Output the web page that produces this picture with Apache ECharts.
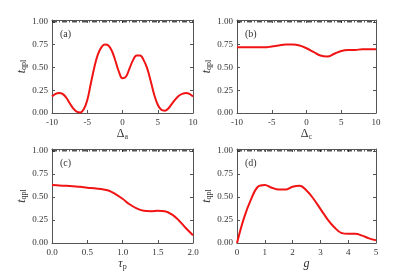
<!DOCTYPE html>
<html><head><meta charset="utf-8">
<script src="https://cdn.jsdelivr.net/npm/echarts@6/dist/echarts.min.js"></script>
<style>html,body{margin:0;padding:0;background:#fff}#c{width:415px;height:274px}</style>
</head><body><div id="c"></div><script>
// Panel (a): t_qpl vs Delta_a
const xA = [-10,-9.5,-9,-8.5,-8,-7.5,-7,-6.5,-6,-5.5,-5,-4.5,-4,-3.5,-3,-2.5,-2,-1.5,-1,-0.5,0,0.5,1,1.5,2,2.5,3,3.5,4,4.5,5,5.5,6,6.5,7,7.5,8,8.5,9,9.5,10];
const yA = [0.18,0.21,0.22,0.21,0.17,0.11,0.05,0.015,0.005,0.04,0.14,0.32,0.50,0.64,0.72,0.75,0.74,0.68,0.57,0.45,0.38,0.40,0.49,0.58,0.63,0.63,0.58,0.49,0.35,0.20,0.09,0.035,0.025,0.05,0.10,0.15,0.19,0.21,0.22,0.21,0.18];
// Panel (b): t_qpl vs Delta_c
const xB = [-10,-9,-8,-7,-6,-5,-4,-3,-2,-1,0,1,2,3,4,5,6,7,8,9,10];
const yB = [0.72,0.72,0.72,0.72,0.72,0.73,0.74,0.75,0.75,0.74,0.71,0.67,0.63,0.62,0.65,0.68,0.69,0.69,0.70,0.70,0.70];
// Panel (c): t_qpl vs tau_p
const xC = [0,0.1,0.2,0.3,0.4,0.5,0.6,0.7,0.8,0.9,1.0,1.1,1.2,1.3,1.4,1.5,1.6,1.7,1.8,1.9,2.0];
const yC = [0.63,0.625,0.62,0.615,0.61,0.60,0.595,0.585,0.57,0.53,0.48,0.42,0.375,0.35,0.345,0.35,0.345,0.31,0.245,0.16,0.085];
// Panel (d): t_qpl vs g
const xD = [0,0.25,0.5,0.75,1.0,1.25,1.5,1.75,2.0,2.25,2.5,2.75,3.0,3.25,3.5,3.75,4.0,4.25,4.5,4.75,5.0];
const yD = [0.0,0.27,0.47,0.61,0.63,0.60,0.58,0.58,0.61,0.62,0.57,0.48,0.37,0.26,0.17,0.11,0.10,0.10,0.08,0.05,0.03];
// Upper bound (dash-dot line)
const upper = 1.0;
const panelLabels = ['(a)','(b)','(c)','(d)'];
const xNames = [['\u0394','a'],['\u0394','c'],['\u03c4','p'],['g','']];
const xTicks = [[-10,10,5],[-10,10,5],[0,2,0.5],[0,5,1]];
const yTicks = [0,1.02,0.25];

const FONT = "'Liberation Serif', 'Times New Roman', serif";
const TXT = '#333';
const AX = '#555';
const grids = [
  {left:52, top:20, width:141, height:93},
  {left:237, top:20, width:139, height:93},
  {left:52, top:149, width:141, height:94},
  {left:237, top:149, width:139, height:94}
];
const xs = [xA,xB,xC,xD], ys=[yA,yB,yC,yD];
const xAxis=[], yAxis=[], series=[], title=[];
const rich = {
  m:{fontSize:12, fontFamily:FONT, color:TXT, fontStyle:'italic', verticalAlign:'middle', lineHeight:14},
  n:{fontSize:12, fontFamily:FONT, color:TXT, verticalAlign:'middle', lineHeight:14},
  s:{fontSize:8, fontFamily:FONT, color:TXT, verticalAlign:'bottom', lineHeight:14}
};
for(let i=0;i<4;i++){
  const [mn,mx,iv]=xTicks[i];
  const dec = iv<1?1:0;
  const nm = xNames[i];
  const nameStr = (i<2? '{n|'+nm[0]+'}' : '{m|'+nm[0]+'}') + (nm[1]? '{s|'+nm[1]+'}':'');
  xAxis.push({type:'value', gridIndex:i, min:mn, max:mx, interval:iv, position:'bottom',
    name:nameStr, nameLocation:'middle', nameGap:9, nameTextStyle:{rich:rich},
    axisLine:{show:true,onZero:false,lineStyle:{color:AX,width:1}},
    axisTick:{show:true,inside:true,length:3,lineStyle:{color:AX}},
    axisLabel:{fontFamily:FONT,fontSize:9,color:TXT,margin:5,formatter:v=>v.toFixed(dec)},
    splitLine:{show:false}});
  xAxis.push({type:'value', gridIndex:i, min:mn, max:mx, interval:iv, position:'top',
    axisLine:{show:true,onZero:false,lineStyle:{color:AX,width:1}},
    axisTick:{show:true,inside:true,length:3,lineStyle:{color:AX}},
    axisLabel:{show:false}, splitLine:{show:false}});
  yAxis.push({type:'value', gridIndex:i, min:yTicks[0], max:yTicks[1], interval:yTicks[2], position:'left',
    name:'{m|t}{s|qpl}', nameLocation:'middle', nameGap:20, nameRotate:90, nameTextStyle:{rich:rich},
    axisLine:{show:true,onZero:false,lineStyle:{color:AX,width:1}},
    axisTick:{show:true,inside:true,length:3,lineStyle:{color:AX}},
    axisLabel:{fontFamily:FONT,fontSize:9,color:TXT,margin:4,
      formatter:v=>{const k=v/0.25; return Math.abs(k-Math.round(k))<1e-6? v.toFixed(2):'';}},
    splitLine:{show:false}});
  yAxis.push({type:'value', gridIndex:i, min:yTicks[0], max:yTicks[1], interval:yTicks[2], position:'right',
    axisLine:{show:true,onZero:false,lineStyle:{color:AX,width:1}},
    axisTick:{show:true,inside:true,length:3,lineStyle:{color:AX}},
    axisLabel:{show:false}, splitLine:{show:false}});
  const xd=xs[i];
  series.push({type:'line', xAxisIndex:2*i, yAxisIndex:2*i, symbol:'none', silent:true,
    data:[[xd[0],upper],[xd[xd.length-1],upper]],
    lineStyle:{color:'#000',width:1,type:[5,2,1,2]}});
  series.push({type:'line', xAxisIndex:2*i, yAxisIndex:2*i, symbol:'none', smooth:0.4, silent:true,
    data:xd.map((x,j)=>[x,ys[i][j]]),
    lineStyle:{color:'#f01414',width:2}});
  title.push({text:panelLabels[i], left:grids[i].left+3, top:grids[i].top+4,
    textStyle:{fontFamily:FONT,fontSize:10,fontWeight:'normal',color:TXT}});
}
const chart = echarts.init(document.getElementById('c'),null,{renderer:'canvas'});
chart.setOption({animation:false, backgroundColor:'#fff', grid:grids, xAxis, yAxis, series, title});
</script></body></html>
